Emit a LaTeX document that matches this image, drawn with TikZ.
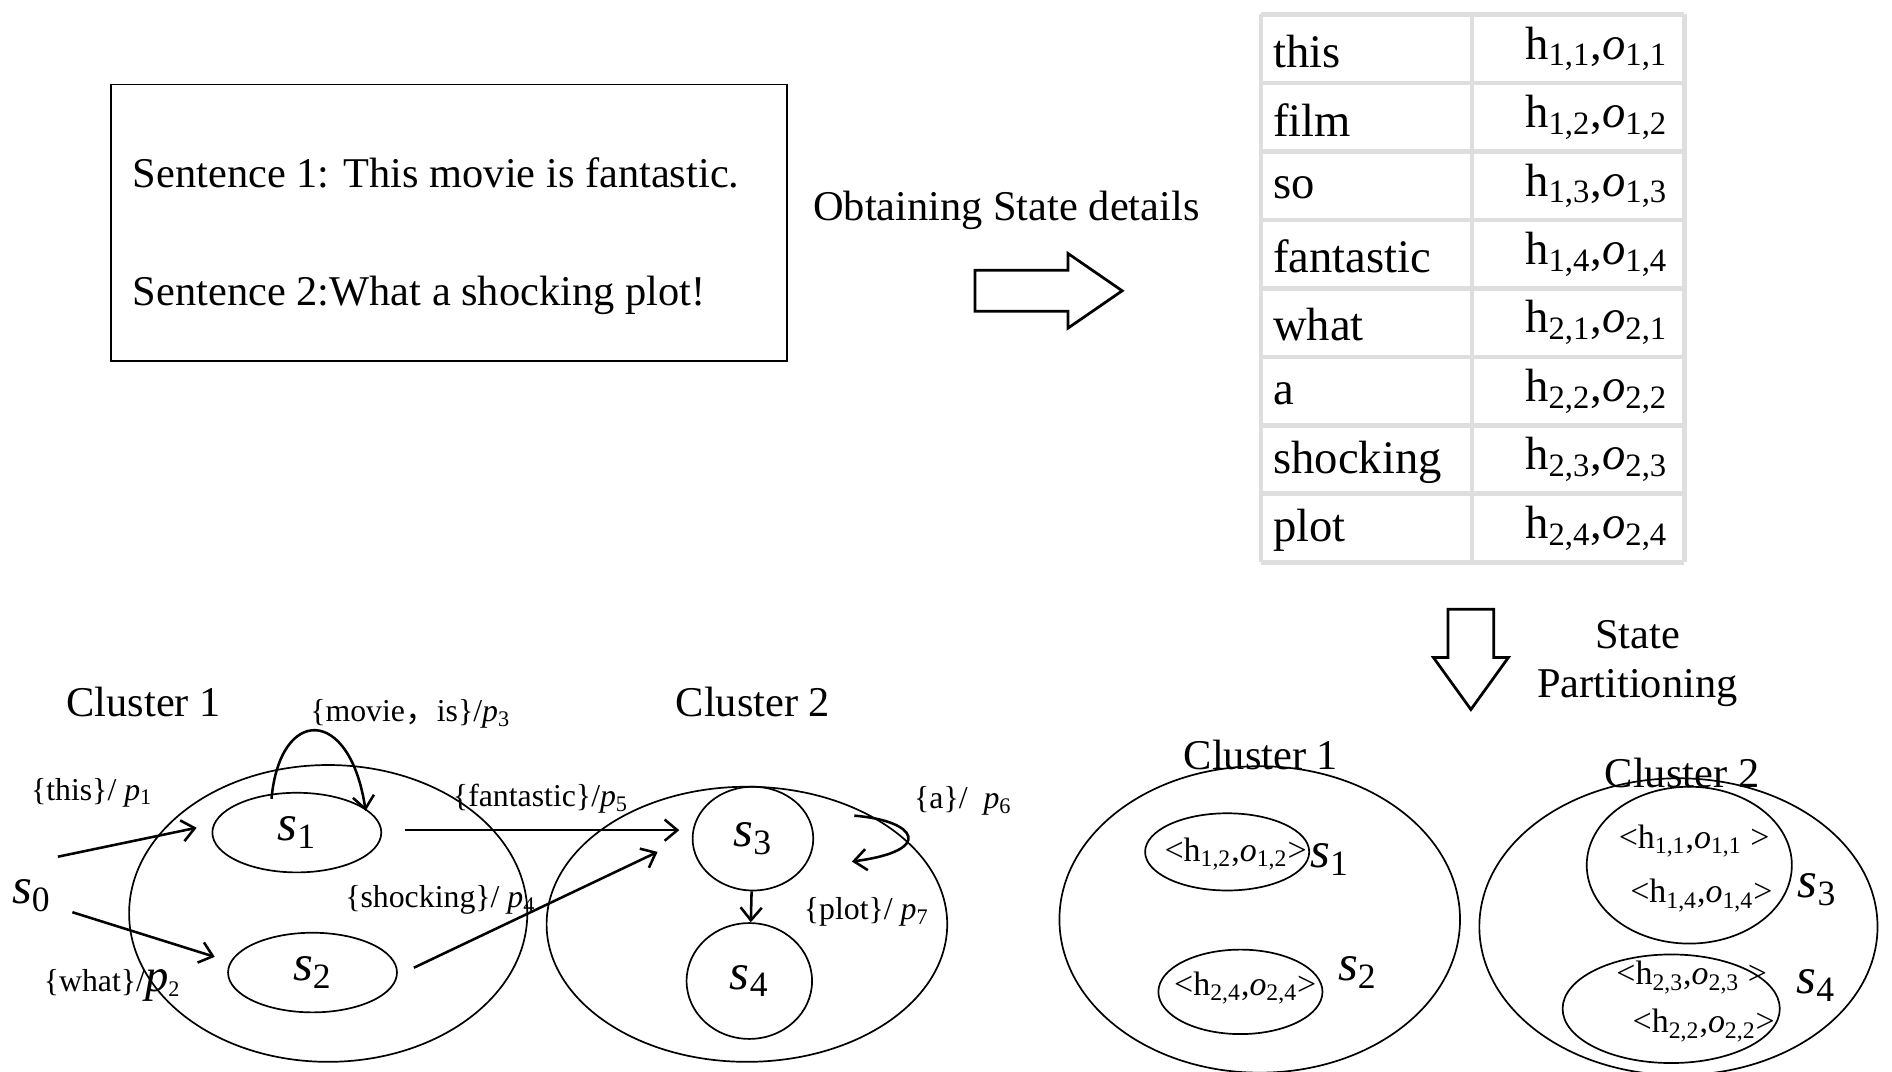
\documentclass[tikz,border=0pt]{standalone}
\usepackage{fontspec}
\setmainfont{Liberation Serif}
\newfontfamily\cjk{Noto Sans CJK SC}
\usetikzlibrary{shapes.geometric,arrows.meta}
\newcommand\hoX[2]{h\textsubscript{#1},\textit{o}\textsubscript{#2}}
\newcommand\sX[1]{\textit{s}\textsubscript{#1}}
\begin{document}
\begin{tikzpicture}[x=0.02cm,y=-0.02cm,
  big/.style={font=\fontsize{20}{22}\selectfont},
  tab/.style={font=\fontsize{22}{24}\selectfont},
  lab/.style={font=\fontsize{15}{17}\selectfont},
  st/.style={font=\fontsize{24}{26}\selectfont},
  inner/.style={font=\fontsize{16}{18}\selectfont},
  ell/.style={draw,ellipse,line width=0.8pt},
  ar/.style={-{Straight Barb[length=6pt,width=10pt]},line width=1.2pt},
  grid/.style={draw=black!13,line width=2.2pt}]
\useasboundingbox (0,0) rectangle (1568,888);
% sentence box
\node[draw,line width=0.8pt,minimum width=560*0.02cm,minimum height=229*0.02cm] (box) at (372,184.5) {};
\node[big,anchor=west] (t1) at (104,143) {Sentence 1: This movie is fantastic.};
\node[big,anchor=west] (t2) at (104,245) {Sentence 2:What a shocking plot!};
\node[big] (obt) at (834,174) {Obtaining State details};
\draw[line width=1.3pt,line join=miter] (808,224) -- (885,224) -- (885,210) -- (930,241) -- (885,272) -- (885,258) -- (808,258) -- cycle;
% table
\foreach \i in {0,...,8}{\draw[grid] (1045,{12+\i*56.75}) -- (1396,{12+\i*56.75});}
\draw[grid] (1045,12) -- (1045,466);
\draw[grid] (1220,12) -- (1220,466);
\draw[grid] (1396,12) -- (1396,466);
\foreach \w [count=\i] in {this,film,so,fantastic,what,a,shocking,plot}{
  \node[tab,anchor=west] (w\i) at (1049,{14+(\i-0.5)*56.75}) {\w};}
\foreach \a/\b [count=\i] in {1/1,1/2,1/3,1/4,2/1,2/2,2/3,2/4}{
  \node[tab,anchor=east] (v\i) at (1388,{12+(\i-0.5)*56.75}) {\hoX{\a,\b}{\a,\b}};}
\draw[line width=1.3pt,line join=miter] (1200,505) -- (1238,505) -- (1238,545) -- (1250,545) -- (1219,588) -- (1188,545) -- (1200,545) -- cycle;
\node[big] (sp1) at (1357,526) {State};
\node[big] (sp2) at (1357,570) {Partitioning};
% bottom left
\node[big] (c1l) at (119,582) {Cluster 1};
\node[big] (c2l) at (624,582) {Cluster 2};
\node[ell,minimum width=330*0.02cm,minimum height=246*0.02cm] (C1) at (272,757) {};
\node[ell,minimum width=332*0.02cm,minimum height=228*0.02cm] (C2) at (619,766) {};
\node[ell,minimum width=140*0.02cm,minimum height=66*0.02cm,st] (s1) at (246,690) {\sX{1}};
\node[ell,minimum width=140*0.02cm,minimum height=66*0.02cm,st] (s2) at (259,806) {\sX{2}};
\node[ell,minimum width=100*0.02cm,minimum height=86*0.02cm,st] (s3) at (624,695) {\sX{3}};
\node[ell,minimum width=104*0.02cm,minimum height=96*0.02cm,st] (s4) at (621,813) {\sX{4}};
\node[st] (s0) at (26,742) {\sX{0}};
\coordinate (a1s) at (48,710); \coordinate (a1e) at (163,686);
\draw[ar] (a1s) -- (a1e);
\coordinate (a2s) at (60,756); \coordinate (a2e) at (178,793);
\draw[ar] (a2s) -- (a2e);
\node[lab] (l1) at (76,657) {\{this\}/ \textit{p}\textsubscript{1}};
\node[lab] (l2) at (93,817) {\{what\}/\textit{\fontsize{22}{24}\selectfont p}\textsubscript{2}};
\coordinate (lp1) at (225,662); \coordinate (lp2) at (303,672);
\draw[ar] (lp1) .. controls (232,585) and (290,585) .. (lp2);
\node[lab] (l3) at (340,592) {\{movie{\cjk ，}is\}/\textit{p}\textsubscript{3}};
\coordinate (f1) at (336,688); \coordinate (f2) at (563,688);
\draw[ar] (f1) -- (f2);
\node[lab] (l5) at (448,662) {\{fantastic\}/\textit{p}\textsubscript{5}};
\coordinate (h1) at (343,802); \coordinate (h2) at (545,706);
\draw[ar] (h1) -- (h2);
\node[lab] (l4) at (365,746) {\{shocking\}/ \textit{p}\textsubscript{4}};
\coordinate (q1) at (708,676); \coordinate (q2) at (706,714);
\draw[ar] (q1) .. controls (760,680) and (775,705) .. (q2);
\node[lab] (l6) at (798,664) {\{a\}/ \ \textit{p}\textsubscript{6}};
\draw[ar] (s3) -- (s4);
\node[lab] (l7) at (718,756) {\{plot\}/ \textit{p}\textsubscript{7}};
% bottom right
\node[big] (d1l) at (1045,626) {Cluster 1};
\node[big] (d2l) at (1394,641) {Cluster 2};
\node[ell,minimum width=332*0.02cm,minimum height=254*0.02cm] (D1) at (1044,762) {};
\node[ell,minimum width=330*0.02cm,minimum height=246*0.02cm] (D2) at (1391,768) {};
\node[ell,minimum width=136*0.02cm,minimum height=64*0.02cm] (r1) at (1017,706) {};
\node[inner] (r1t) at (1024,708) {<\hoX{1,2}{1,2}>};
\node[st] (r1l) at (1102,712) {\sX{1}};
\node[ell,minimum width=136*0.02cm,minimum height=70*0.02cm] (r2) at (1028,822) {};
\node[inner] (r2t) at (1032,819) {<\hoX{2,4}{2,4}>};
\node[st] (r2l) at (1125,806) {\sX{2}};
\node[ell,minimum width=170*0.02cm,minimum height=130*0.02cm] (r3) at (1400,717) {};
\node[inner] (r3a) at (1404,697) {<\hoX{1,1}{1,1} >};
\node[inner] (r3b) at (1410,742) {<\hoX{1,4}{1,4}>};
\node[st] (r3l) at (1506,737) {\sX{3}};
\node[ell,minimum width=180*0.02cm,minimum height=90*0.02cm] (r4) at (1385,836) {};
\node[inner] (r4a) at (1402,810) {<\hoX{2,3}{2,3} >};
\node[inner] (r4b) at (1412,850) {<\hoX{2,2}{2,2}>};
\node[st] (r4l) at (1505,817) {\sX{4}};
\end{tikzpicture}
\end{document}
